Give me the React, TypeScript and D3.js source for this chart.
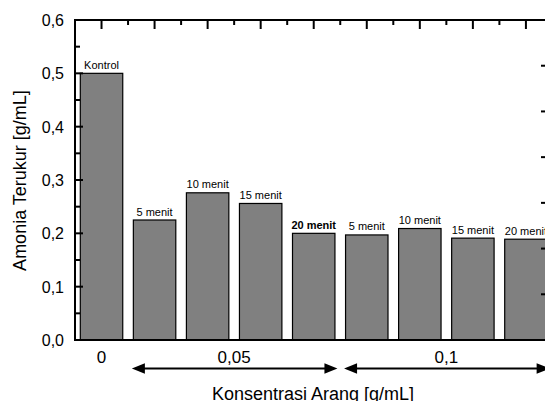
import React from "react";
import * as d3 from "d3";

const barLabels = ["Kontrol", "5 menit", "10 menit", "15 menit", "20 menit", "5 menit", "10 menit", "15 menit", "20 menit"];
const barGroups = ["0", "0,05", "0,05", "0,05", "0,05", "0,1", "0,1", "0,1", "0,1"];
const values = [0.5, 0.225, 0.276, 0.256, 0.2, 0.197, 0.209, 0.191, 0.189];
const groupLabels = ["0", "0,05", "0,1"];
const yTicks = [0, 0.1, 0.2, 0.3, 0.4, 0.5, 0.6];
const boldLabelIndex = [4];

const W = 545;
const H = 401;
const left = 75;
const top = 20;
const bottom = 340;
const font = "'Liberation Sans', Arial, sans-serif";

export default function App() {
  const idx = values.map((_, i) => String(i));
  const x = d3.scaleBand<string>().domain(idx).range([left, left + 9 * 53.05]).paddingInner(0.2).paddingOuter(0.1);
  const y = d3.scaleLinear().domain([0, 0.6]).range([bottom, top]);
  const step = x.step();
  const center = (i: number) => (x(String(i)) as number) + x.bandwidth() / 2;
  const fmt = (v: number) => d3.format(".1f")(v).replace(".", ",");

  const minorY = d3.range(0.05, 0.6, 0.1);
  const majorTop = idx.map((_, i) => center(i));
  const minorTop = idx.map((_, i) => center(i) + step / 2);
  const rightTicks = d3.range(1, 7).map((k) => top + (k * (bottom - top)) / 7);

  const groups = groupLabels.map((g) => {
    const members = barGroups.map((bg, i) => (bg === g ? i : -1)).filter((i) => i >= 0);
    const cx = d3.mean(members.map(center)) as number;
    const x0 = (x(String(members[0])) as number) - 1.5;
    const x1 = (x(String(members[members.length - 1])) as number) + x.bandwidth() + 2.5;
    return { g, cx, x0, x1, arrow: members.length > 1 };
  });

  const arrowY = 368.5;
  const ah = 13;
  const aw = 5.3;

  return (
    <svg width={W} height={H} style={{ position: "absolute", left: 0, top: 0, background: "#fff" }} fontFamily={font}>
      <rect x={0} y={0} width={W} height={H} fill="#fff" />
      {/* bars */}
      {values.map((v, i) => (
        <g key={i}>
          <rect
            x={x(String(i)) as number}
            y={y(v)}
            width={x.bandwidth()}
            height={bottom - y(v)}
            fill="#808080"
            stroke="#000"
            strokeWidth={1.2}
          />
          <text
            x={center(i)}
            y={y(v) - 4.5}
            textAnchor="middle"
            fontSize={11}
            fontWeight={boldLabelIndex.includes(i) ? "bold" : "normal"}
            fill="#000"
          >
            {barLabels[i]}
          </text>
        </g>
      ))}
      {/* axes frame */}
      <line x1={left} x2={W} y1={top} y2={top} stroke="#000" strokeWidth={2} />
      <line x1={left} x2={W} y1={bottom} y2={bottom} stroke="#000" strokeWidth={2} />
      <line x1={left} x2={left} y1={top - 1} y2={bottom + 1} stroke="#000" strokeWidth={2} />
      {/* left ticks */}
      {yTicks.map((t) => (
        <g key={t}>
          <line x1={left} x2={left + 8} y1={y(t)} y2={y(t)} stroke="#000" strokeWidth={2} />
          <text x={64} y={y(t) + 6} textAnchor="end" fontSize={16} fill="#000">
            {fmt(t)}
          </text>
        </g>
      ))}
      {minorY.map((t) => (
        <line key={t} x1={left} x2={left + 5} y1={y(t)} y2={y(t)} stroke="#000" strokeWidth={2} />
      ))}
      {/* top ticks */}
      {majorTop.map((cx, i) => (
        <line key={"M" + i} x1={cx} x2={cx} y1={top} y2={top + 9} stroke="#000" strokeWidth={2} />
      ))}
      {minorTop.map((cx, i) => (
        <line key={"m" + i} x1={cx} x2={cx} y1={top} y2={top + 5} stroke="#000" strokeWidth={2} />
      ))}
      {/* right ticks */}
      {rightTicks.map((ty, i) => (
        <line key={"r" + i} x1={541} x2={W} y1={ty} y2={ty} stroke="#000" strokeWidth={2} />
      ))}
      {/* group labels and arrows */}
      {groups.map((gr) => (
        <g key={gr.g}>
          <text x={gr.cx} y={362.5} textAnchor="middle" fontSize={17} fill="#000">
            {gr.g}
          </text>
          {gr.arrow && (
            <g>
              <line x1={gr.x0 + ah - 1} x2={gr.x1 - ah + 1} y1={arrowY} y2={arrowY} stroke="#000" strokeWidth={2} />
              <path d={`M${gr.x0},${arrowY} L${gr.x0 + ah},${arrowY - aw} L${gr.x0 + ah},${arrowY + aw} Z`} fill="#000" />
              <path d={`M${gr.x1},${arrowY} L${gr.x1 - ah},${arrowY - aw} L${gr.x1 - ah},${arrowY + aw} Z`} fill="#000" />
            </g>
          )}
        </g>
      ))}
      {/* titles */}
      <text x={313} y={400} textAnchor="middle" fontSize={18} fill="#000">
        Konsentrasi Arang [g/mL]
      </text>
      <text transform={`translate(26,180.5) rotate(-90)`} textAnchor="middle" fontSize={18} fill="#000">
        Amonia Terukur [g/mL]
      </text>
    </svg>
  );
}
